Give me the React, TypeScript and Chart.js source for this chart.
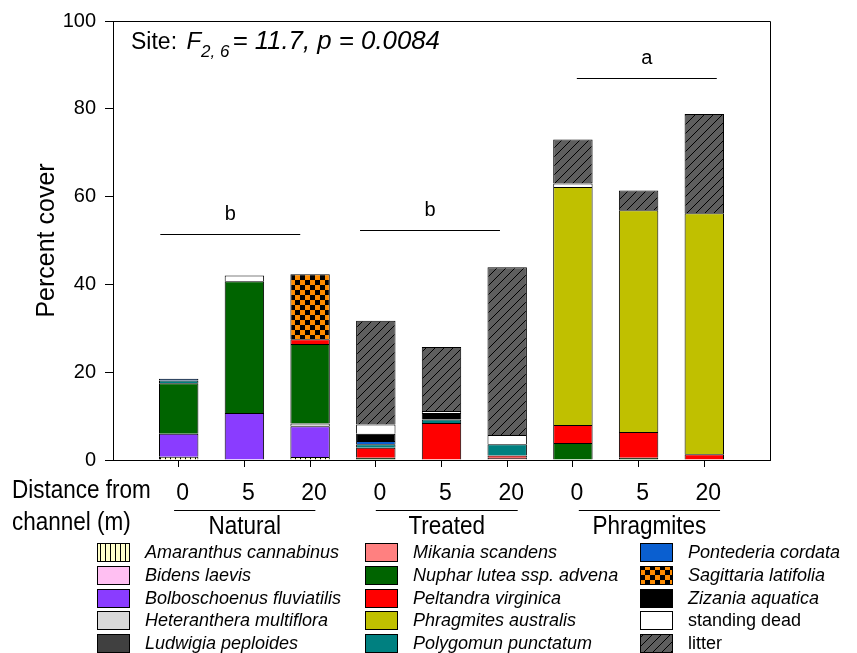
import React, { useEffect, useRef } from 'react';
import { Chart, registerables } from 'chart.js';

Chart.register(...registerables);

// ---------- data ----------
const distanceLabels = ['0', '5', '20', '0', '5', '20', '0', '5', '20'];
const siteNames = ['Natural', 'Treated', 'Phragmites'];
const speciesNames = [
  'Amaranthus cannabinus',
  'Bidens laevis',
  'Bolboschoenus fluviatilis',
  'Heteranthera multiflora',
  'Ludwigia peploides',
  'Mikania scandens',
  'Nuphar lutea ssp. advena',
  'Peltandra virginica',
  'Phragmites australis',
  'Polygomun punctatum',
  'Pontederia cordata',
  'Sagittaria latifolia',
  'Zizania aquatica',
  'standing dead',
  'litter',
];
// values per bar: Natural 0,5,20 | Treated 0,5,20 | Phragmites 0,5,20
const amaranthus = [0.75, 0, 0.7, 0, 0, 0, 0, 0, 0];
const bidens = [0, 0, 0, 0, 0, 0, 0, 0, 0];
const bolboschoenus = [5.25, 10.7, 7.0, 0, 0, 0, 0, 0, 0];
const heteranthera = [0, 0, 0.6, 0, 0, 0, 0, 0, 0];
const ludwigia = [0, 0, 0, 0, 0, 0, 0, 0, 0];
const mikania = [0, 0, 0, 0, 0, 0.5, 0, 0, 0];
const nuphar = [11.5, 30.0, 18.1, 0.5, 0, 0, 3.9, 0.5, 0];
const peltandra = [0, 0, 1.1, 2.3, 8.4, 0.5, 4.1, 5.9, 1.3];
const phragmites = [0, 0, 0, 0, 0, 0, 54.2, 50.5, 54.9];
const polygonum = [0.6, 0, 0, 0.8, 0.8, 2.6, 0, 0, 0];
const pontederia = [0.4, 0, 0, 0.7, 0, 0, 0, 0, 0];
const sagittaria = [0, 0, 14.8, 0, 0, 0, 0, 0, 0];
const zizania = [0, 0, 0, 1.7, 1.5, 0, 0, 0, 0];
const standingDead = [0, 1.3, 0, 2.1, 0.45, 2.1, 0.8, 0, 0];
const litter = [0, 0, 0, 23.6, 14.6, 38.2, 10.0, 4.5, 22.6];

const seriesValues = [
  amaranthus, bidens, bolboschoenus, heteranthera, ludwigia, mikania, nuphar,
  peltandra, phragmites, polygonum, pontederia, sagittaria, zizania, standingDead, litter,
];

const titleParts = { lead: 'Site: ', f: 'F', sub: '2, 6', rest: '= 11.7, p = 0.0084' };
const yTitle = 'Percent cover';
const xTitleLines = ['Distance from', 'channel (m)'];
// significance groups (positions on the padded category axis, y level in % cover)
const sigLetters = ['b', 'b', 'a'];
const sigLevels = [51.4, 52.3, 87.1];
const sigFrom = [0.72, 3.76, 7.06];
const sigTo = [2.85, 5.89, 9.19];
// site group underline extents (category-axis positions)
const groupFrom = [0.93, 4.0, 7.09];
const groupTo = [3.08, 6.16, 9.24];

// ---------- styles ----------
const SANS = '"Liberation Sans", Arial, sans-serif';
const NARROW_SCALE = 0.9;

function makePattern(w: number, h: number, draw: (g: CanvasRenderingContext2D) => void) {
  const c = document.createElement('canvas');
  c.width = w;
  c.height = h;
  const g = c.getContext('2d') as CanvasRenderingContext2D;
  draw(g);
  return g.createPattern(c, 'repeat') as CanvasPattern;
}

function buildFills(): (string | CanvasPattern)[] {
  const amar = makePattern(5, 5, (g) => {
    g.fillStyle = '#ffffcc';
    g.fillRect(0, 0, 5, 5);
    g.fillStyle = '#000';
    g.fillRect(0, 0, 1, 5);
  });
  const checker = makePattern(10, 10, (g) => {
    g.fillStyle = '#000';
    g.fillRect(0, 0, 10, 10);
    g.fillStyle = '#ff8c00';
    g.fillRect(0, 0, 5, 5);
    g.fillRect(5, 5, 5, 5);
  });
  const hatch = makePattern(9, 9, (g) => {
    g.fillStyle = '#5e5e5e';
    g.fillRect(0, 0, 9, 9);
    g.strokeStyle = '#000';
    g.lineWidth = 1;
    for (const o of [-9, 0, 9]) {
      g.beginPath();
      g.moveTo(o, 9);
      g.lineTo(o + 9, 0);
      g.stroke();
    }
  });
  return [
    amar, '#ffbff2', '#8a3cff', '#d9d9d9', '#404040', '#ff8080', '#006400',
    '#ff0000', '#c0c000', '#008080', '#0a5fd0', checker, '#000000', '#ffffff', hatch,
  ];
}

function narrowText(ctx: CanvasRenderingContext2D, text: string, x: number, y: number, align: CanvasTextAlign) {
  ctx.save();
  ctx.translate(x, y);
  ctx.scale(NARROW_SCALE, 1);
  ctx.textAlign = align;
  ctx.fillText(text, 0, 0);
  ctx.restore();
}

const overlayPlugin = {
  id: 'overlay',
  afterDraw(chart: any) {
    const ctx: CanvasRenderingContext2D = chart.ctx;
    const { left, top, right, bottom } = chart.chartArea;
    const xs = chart.scales.x;
    const ys = chart.scales.y;
    ctx.save();
    ctx.fillStyle = '#000';
    ctx.strokeStyle = '#000';
    ctx.lineWidth = 1;

    // frame (top + right)
    ctx.beginPath();
    ctx.moveTo(Math.round(left) + 0.5, Math.round(top) + 0.5);
    ctx.lineTo(Math.round(right) + 0.5, Math.round(top) + 0.5);
    ctx.lineTo(Math.round(right) + 0.5, Math.round(bottom) + 0.5);
    ctx.stroke();

    // title with subscript
    ctx.textBaseline = 'alphabetic';
    ctx.textAlign = 'left';
    let tx = left + 18;
    const tb = 48.5;
    ctx.font = `23px ${SANS}`;
    ctx.fillText(titleParts.lead, tx, tb);
    tx += ctx.measureText(titleParts.lead).width + 3;
    ctx.font = `italic 24px ${SANS}`;
    ctx.fillText(titleParts.f, tx, tb);
    tx += ctx.measureText(titleParts.f).width;
    ctx.font = `italic 17px ${SANS}`;
    ctx.fillText(titleParts.sub, tx, tb + 8);
    tx += ctx.measureText(titleParts.sub).width + 3;
    ctx.font = `italic 25.8px ${SANS}`;
    ctx.fillText(titleParts.rest, tx, tb);

    // significance lines
    for (let i = 0; i < sigLetters.length; i++) {
      const x1 = xs.getPixelForValue(sigFrom[i]);
      const x2 = xs.getPixelForValue(sigTo[i]);
      const y = Math.round(ys.getPixelForValue(sigLevels[i])) + 0.5;
      ctx.beginPath();
      ctx.moveTo(x1, y);
      ctx.lineTo(x2, y);
      ctx.stroke();
      ctx.font = `20px ${SANS}`;
      ctx.textAlign = 'center';
      ctx.fillText(sigLetters[i], (x1 + x2) / 2, y - 15);
    }

    // x title (left)
    ctx.font = `25px ${SANS}`;
    ctx.textBaseline = 'middle';
    narrowText(ctx, xTitleLines[0], 12, 491, 'left');
    narrowText(ctx, xTitleLines[1], 12, 523, 'left');

    // group lines + names
    for (let g = 0; g < siteNames.length; g++) {
      const x1 = xs.getPixelForValue(groupFrom[g]);
      const x2 = xs.getPixelForValue(groupTo[g]);
      ctx.beginPath();
      ctx.moveTo(x1, 510.5);
      ctx.lineTo(x2, 510.5);
      ctx.stroke();
      narrowText(ctx, siteNames[g], (x1 + x2) / 2, 527, 'center');
    }

    // legend: 3 columns x 5 rows, column-major
    const colBox = [97, 365, 640];
    const rowY = [552, 575, 598, 620, 643];
    const ds = chart.data.datasets;
    for (let i = 0; i < ds.length; i++) {
      const c = Math.floor(i / 5);
      const r = i % 5;
      const bx = colBox[c];
      const by = rowY[r] - 9;
      ctx.fillStyle = ds[i].backgroundColor;
      ctx.fillRect(bx, by, 33, 19);
      ctx.strokeStyle = '#000';
      ctx.strokeRect(bx + 0.5, by + 0.5, 32, 18);
      ctx.fillStyle = '#000';
      const italic = i < 13;
      ctx.font = `${italic ? 'italic ' : ''}18px ${SANS}`;
      ctx.textAlign = 'left';
      ctx.textBaseline = 'middle';
      ctx.fillText(ds[i].label, bx + 48, rowY[r] + 1);
    }
    ctx.restore();
  },
};

export default function App() {
  const ref = useRef<HTMLCanvasElement | null>(null);
  useEffect(() => {
    const canvas = ref.current;
    if (!canvas) return;
    const fills = buildFills();
    const labels = ['', ...distanceLabels, ''];
    const datasets = speciesNames.map((name, i) => ({
      label: name,
      data: [null, ...seriesValues[i].map((v) => (v > 0 ? v : null)), null],
      backgroundColor: fills[i],
      borderColor: '#000',
      borderWidth: 1,
      barPercentage: 1,
      categoryPercentage: 0.6,
    }));
    const chart = new Chart(canvas, {
      type: 'bar',
      data: { labels, datasets: datasets as any },
      options: {
        responsive: false,
        animation: false,
        events: [],
        layout: { padding: { left: 0, top: 18, right: 87, bottom: 0 } },
        plugins: { legend: { display: false }, tooltip: { enabled: false }, title: { display: false } },
        scales: {
          x: {
            type: 'category',
            stacked: true,
            offset: false,
            grid: {
              offset: false,
              drawOnChartArea: false,
              tickLength: 7,
              color: (c: any) => (c.index === 0 || c.index === 10 ? 'rgba(0,0,0,0)' : '#000'),
            },
            border: { color: '#000', width: 1 },
            ticks: {
              autoSkip: false,
              maxRotation: 0,
              padding: 13,
              labelOffset: 4,
              color: '#000',
              font: { family: SANS, size: 23 },
            },
            afterFit: (s: any) => {
              s.height = 193;
            },
          },
          y: {
            stacked: true,
            min: 0,
            max: 100,
            ticks: { stepSize: 20, padding: 9, color: '#000', font: { family: SANS, size: 20 } },
            grid: { drawOnChartArea: false, tickLength: 8, color: '#000' },
            border: { color: '#000', width: 1 },
            title: {
              display: true,
              text: yTitle,
              color: '#000',
              font: { family: SANS, size: 25 },
              padding: { top: 32, bottom: 0 },
            },
            afterFit: (s: any) => {
              s.width = 113;
            },
          },
        },
      },
      plugins: [overlayPlugin],
    });
    return () => chart.destroy();
  }, []);
  return (
    <div style={{ position: 'absolute', left: 0, top: 0, width: 857, height: 653, background: '#fff' }}>
      <canvas ref={ref} width={857} height={653} style={{ display: 'block' }} />
    </div>
  );
}
